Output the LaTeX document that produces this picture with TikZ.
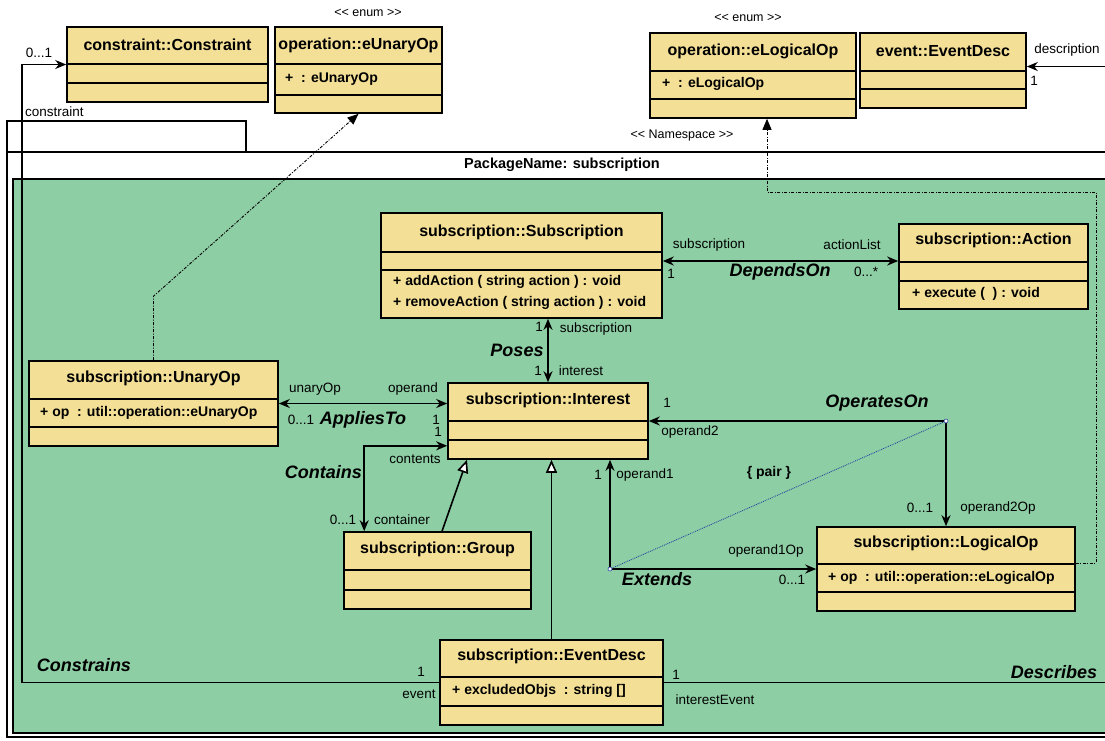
\documentclass[tikz,border=0pt]{standalone}
\usepackage{fontspec}
\setmainfont{Liberation Sans}
\usetikzlibrary{arrows.meta,fit}
\definecolor{classyellow}{RGB}{243,223,150}
\definecolor{pkggreen}{RGB}{141,206,164}
\definecolor{pairblue}{RGB}{40,70,160}

\begin{document}
\begin{tikzpicture}[x=1pt, y=-1pt,
    >={Stealth[length=11pt,width=9pt,inset=3.5pt]},
    classbox/.style={draw, line width=1.6pt, fill=classyellow, inner sep=0pt},
    sep/.style={line width=1.5pt},
    classname/.style={font=\fontsize{16}{19}\selectfont\bfseries, inner sep=0pt},
    member/.style={font=\fontsize{14}{16}\selectfont\bfseries, inner sep=0pt, anchor=west},
    role/.style={font=\fontsize{13.5}{15}\selectfont, inner sep=0pt},
    assocname/.style={font=\fontsize{18}{20}\selectfont\bfseries\itshape, inner sep=0pt},
    stereo/.style={font=\fontsize{12.5}{14}\selectfont, inner sep=0pt},
    assoc/.style={line width=1.6pt},
    gen/.style={line width=1.6pt, -{Triangle[open,length=13pt,width=11pt,fill=white]}},
    dep/.style={line width=0.9pt, dash pattern=on 3pt off 1.5pt on 1pt off 1.5pt, -{Triangle[length=11pt,width=9pt]}},
    pairline/.style={densely dotted, line width=0.9pt, pairblue},
    pairend/.style={circle, draw=pairblue, fill=white, line width=0.6pt, inner sep=0pt, minimum size=4pt}]

\useasboundingbox (0,0) rectangle (1105,740);
\fill[white] (0,0) rectangle (1105,740);
\clip (0,0) rectangle (1105,740);

\draw[line width=1.5pt, fill=white] (7,121) rectangle (246,152);
\draw[line width=1.5pt, fill=white] (7,152) rectangle (1130,737);
\draw[line width=1.5pt, fill=pkggreen] (13,179) rectangle (1130,733);
\node[font=\fontsize{14.5}{16}\selectfont\bfseries, inner sep=0pt] (pkgname) at (562,165) {PackageName: subscription};
\node[stereo] (nsstereo) at (682,135) {<{}< Namespace >{}>};

\node[classbox, fit={(67,27) (268,102)}] (con) {};
\draw[sep] (67,64) -- (268,64) (67,83) -- (268,83);
\node[classname] (conname) at (167.5,45) {constraint::Constraint};

\node[stereo] (eunstereo) at (368,13) {<{}< enum >{}>};
\node[classbox, fit={(275,27) (442,113)}] (eun) {};
\draw[sep] (275,64) -- (442,64) (275,95) -- (442,95);
\node[classname] (eunname) at (358.5,45) {operation::eUnaryOp};
\node[member] (eunattr) at (285,79) {+ \ : eUnaryOp};

\node[stereo] (elostereo) at (748,18) {<{}< enum >{}>};
\node[classbox, fit={(650,33) (856,118)}] (elo) {};
\draw[sep] (650,71) -- (856,71) (650,99) -- (856,99);
\node[classname] (eloname) at (753,51) {operation::eLogicalOp};
\node[member] (eloattr) at (662,84) {+ \ : eLogicalOp};

\node[classbox, fit={(860,33) (1026,108)}] (edesc) {};
\draw[sep] (860,71) -- (1026,71) (860,89) -- (1026,89);
\node[classname] (edescname) at (943,51) {event::EventDesc};

\node[classbox, fit={(381,213) (662,318)}] (sub) {};
\draw[sep] (381,252) -- (662,252) (381,270) -- (662,270);
\node[classname] (subname) at (521.5,232) {subscription::Subscription};
\node[member] (subop1) at (393,282) {+ addAction ( string action ) : void};
\node[member] (subop2) at (393,303) {+ removeAction ( string action ) : void};

\node[classbox, fit={(899,224) (1088,309)}] (act) {};
\draw[sep] (899,262) -- (1088,262) (899,281) -- (1088,281);
\node[classname] (actname) at (993.5,240) {subscription::Action};
\node[member] (actop) at (912,294) {+ execute ( \ ) : void};

\node[classbox, fit={(29,361) (278,446)}] (un) {};
\draw[sep] (29,399) -- (278,399) (29,427) -- (278,427);
\node[classname] (unname) at (153.5,378) {subscription::UnaryOp};
\node[member] (unattr) at (40,413) {+ op \ : util::operation::eUnaryOp};

\node[classbox, fit={(448,383) (648,459)}] (int) {};
\draw[sep] (448,421) -- (648,421) (448,440) -- (648,440);
\node[classname] (intname) at (548,400) {subscription::Interest};

\node[classbox, fit={(344,532) (531,609)}] (grp) {};
\draw[sep] (344,570) -- (531,570) (344,590) -- (531,590);
\node[classname] (grpname) at (437.5,549) {subscription::Group};

\node[classbox, fit={(817,527) (1075,611)}] (lop) {};
\draw[sep] (817,564) -- (1075,564) (817,592) -- (1075,592);
\node[classname] (lopname) at (946,543) {subscription::LogicalOp};
\node[member] (lopattr) at (828,578) {+ op \ : util::operation::eLogicalOp};

\node[classbox, fit={(440,640) (663,725)}] (evd) {};
\draw[sep] (440,677) -- (663,677) (440,706) -- (663,706);
\node[classname] (evdname) at (551.5,656) {subscription::EventDesc};
\node[member] (evdattr) at (452,691) {+ excludedObjs \ : string []};

\coordinate (conbend) at (22,400);
\coordinate (desbend) at (1130,400);
\coordinate (descend) at ([yshift=4pt]edesc.east);
\coordinate (depbend) at (1096,192);
\coordinate (extbend) at ([xshift=62pt]int.south |- lop.west);
\coordinate (opbend) at (int.east -| lop.north);

\draw[assoc, <->] ([yshift=4.5pt]sub.east) -- ([yshift=4.5pt]sub.east -| act.west);
\draw[assoc, <->] (int.north |- sub.south) -- (int.north);
\draw[assoc, <->] (un.east) -- (un.east -| int.west);
\draw[assoc, <->] ([yshift=14pt]int.south west) -| ([xshift=21pt]grp.north west);
\draw[assoc, <->] (int.east) -| (lop.north);
\draw[assoc, <->] ([xshift=62pt]int.south) |- (lop.west);
\draw[assoc, ->] (evd.west) -| (conbend |- con.west) -- (con.west);
\draw[assoc, ->] (evd.east) -| (desbend |- descend) -- (descend);
\draw[gen] ([xshift=4.5pt]grp.north) -- ([xshift=-81pt]int.south);
\draw[gen] (evd.north) -- (evd.north |- int.south);
\draw[dep] (un.north) -- ++(0,-64) -- (eun.south);
\draw[dep] ([yshift=6pt]lop.east) -| (depbend) -| ([xshift=14pt]elo.south);
\draw[pairline] (extbend) -- (opbend);
\node[pairend] (extdot) at (extbend) {};
\node[pairend] (opdot) at (opbend) {};

\node[role] (conmult) at (39,53) {0...1};
\node[role, anchor=west] (conrole) at (25,112) {constraint};
\node[role] (descrole) at (1067,50) {description};
\node[role] (descmult) at (1034,81) {1};

\node[role] (subrole) at (709,245) {subscription};
\node[role] (submult) at (671,274) {1};
\node[role] (actrole) at (852,245) {actionList};
\node[role] (actmult) at (866,272) {0...*};
\node[assocname] (depname) at (780,272) {DependsOn};

\node[role] (posmult1) at (539,327) {1};
\node[role] (posrole1) at (596,329) {subscription};
\node[assocname] (posname) at (517,350) {Poses};
\node[role] (posmult2) at (538,371) {1};
\node[role] (posrole2) at (581,371) {interest};

\node[role] (unrole) at (315,389) {unaryOp};
\node[role] (oprole) at (413,389) {operand};
\node[role] (unmult) at (301,420) {0...1};
\node[assocname] (appname) at (363,420) {AppliesTo};
\node[role] (opmult) at (436,420) {1};

\node[role] (contmult) at (438,432) {1};
\node[role] (controle) at (415,459) {contents};
\node[assocname, anchor=east] (contname) at (362,472) {Contains};
\node[role] (grpmult) at (343,520) {0...1};
\node[role] (grprole) at (402,520) {container};

\node[role] (op2mult) at (667,403) {1};
\node[role] (op2role) at (690,432) {operand2};
\node[assocname] (opsname) at (877,403) {OperatesOn};
\node[role] (lop2mult) at (920,508) {0...1};
\node[role] (lop2role) at (998,508) {operand2Op};

\node[role] (op1mult) at (598,475) {1};
\node[role] (op1role) at (645,475) {operand1};
\node[font=\fontsize{14}{16}\selectfont\bfseries, inner sep=0pt] (pairname) at (769,473) {\{ pair \}};
\node[role] (lop1role) at (766,551) {operand1Op};
\node[assocname] (extname) at (657,579) {Extends};
\node[role] (lop1mult) at (792,580) {0...1};

\node[assocname] (cstname) at (84,665) {Constrains};
\node[role] (evmult) at (421,672) {1};
\node[role] (evrole) at (419,694) {event};
\node[assocname] (desname) at (1054,672) {Describes};
\node[role] (iemult) at (676,675) {1};
\node[role] (ierole) at (715,700) {interestEvent};
\end{tikzpicture}
\end{document}
